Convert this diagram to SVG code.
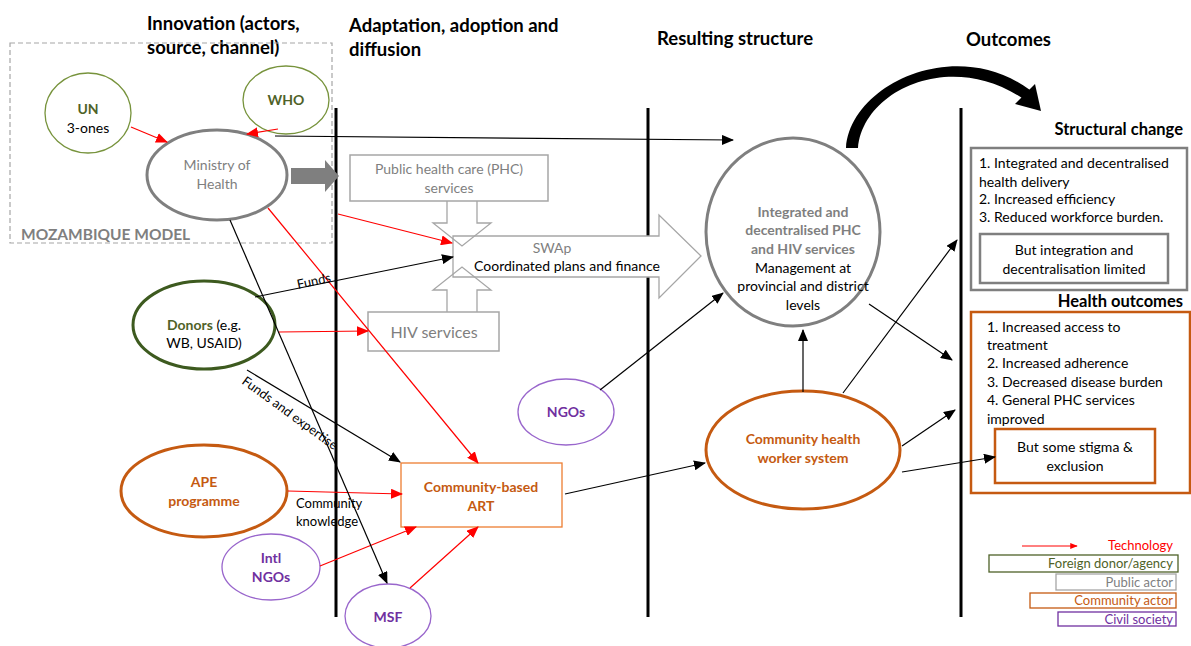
<svg xmlns="http://www.w3.org/2000/svg" width="1191" height="646" viewBox="0 0 1191 646">
<defs>
<marker id="ab" viewBox="0 0 12 10" refX="11" refY="5" markerWidth="12" markerHeight="10" markerUnits="userSpaceOnUse" orient="auto"><path d="M0,0 L12,5 L0,10 Z" fill="#000"/></marker>
<marker id="ar" viewBox="0 0 12 10" refX="11" refY="5" markerWidth="12" markerHeight="10" markerUnits="userSpaceOnUse" orient="auto"><path d="M0,0 L12,5 L0,10 Z" fill="#ff0000"/></marker>
<marker id="ars" viewBox="0 0 10 8" refX="9" refY="4" markerWidth="8" markerHeight="6" markerUnits="userSpaceOnUse" orient="auto"><path d="M0,0 L10,4 L0,8 Z" fill="#ff0000"/></marker>
</defs>
<style>
text{font-family:Lato,"Liberation Sans",sans-serif;font-size:14px;fill:#000}
.h{font-size:18.5px;font-weight:bold}
.b{font-weight:bold}
.g{fill:#7f7f7f}
.dg{fill:#4f6228}
.or{fill:#c55a11}
.pu{fill:#7030a0}
.c{text-anchor:middle}
.r{text-anchor:end}
.blk{stroke:#000;stroke-width:1.2;fill:none}
.red{stroke:#ff0000;stroke-width:1.2;fill:none}
.vl{stroke:#000;stroke-width:3}
.lg{font-size:13px}
</style>
<rect width="1191" height="646" fill="#fff"/>

<g id="headings">
<text class="h" x="147" y="30">Innovation (actors,</text>
<text class="h" x="147" y="54">source, channel)</text>
<text class="h" x="349" y="32">Adaptation, adoption  and</text>
<text class="h" x="349" y="56">diffusion</text>
<text class="h" x="657" y="45">Resulting structure</text>
<text class="h" x="966" y="46">Outcomes</text>
</g>

<g id="mozambique-model">
<rect x="10" y="43" width="322" height="200" fill="none" stroke="#a6a6a6" stroke-width="1.2" stroke-dasharray="5,3"/>
<text x="21" y="240" class="b g" style="font-size:15.5px">MOZAMBIQUE MODEL</text>
</g>

<g id="dividers">
<line class="vl" x1="336" y1="108" x2="336" y2="617"/>
<line class="vl" x1="648" y1="108" x2="648" y2="617"/>
<line class="vl" x1="961" y1="108" x2="961" y2="617"/>
</g>

<g id="swap">
<path d="M453,236 H659 V215 L701,256 L659,298 V277 H453 Z" fill="#fff" stroke="#a6a6a6" stroke-width="1.3"/>
<text class="c g" x="552" y="253">SWAp</text>
<text class="c" x="567" y="271">Coordinated plans and finance</text>
</g>

<g id="phc">
<rect x="350" y="155" width="198" height="46" fill="#fff" stroke="#a6a6a6" stroke-width="1.5"/>
<text class="c g" x="449" y="174">Public health care (PHC)</text>
<text class="c g" x="449" y="193">services</text>
<path d="M447,201 V223 H433 L462,246 L491,223 H477 V201" fill="none" stroke="#a6a6a6" stroke-width="1.3"/>
</g>

<g id="hiv">
<path d="M447,312 V290 H433 L462,267 L491,290 H477 V312" fill="none" stroke="#a6a6a6" stroke-width="1.3"/>
<rect x="368" y="312" width="131" height="39" fill="#fff" stroke="#a6a6a6" stroke-width="1.5"/>
<text class="c g" x="434" y="338" style="font-size:16px">HIV services</text>
</g>

<g id="un">
<ellipse cx="88" cy="113" rx="43" ry="40" fill="#fff" stroke="#77933c" stroke-width="1.3"/>
<text class="c b dg" x="88" y="114">UN</text>
<text class="c" x="88" y="133">3-ones</text>
</g>

<g id="who">
<ellipse cx="286" cy="100" rx="43" ry="34" fill="#fff" stroke="#77933c" stroke-width="1.3"/>
<text class="c b dg" x="286" y="105">WHO</text>
</g>

<g id="ministry">
<ellipse cx="217" cy="175" rx="70" ry="45" fill="#fff" stroke="#7f7f7f" stroke-width="3"/>
<text class="c g" x="217" y="170">Ministry of</text>
<text class="c g" x="217" y="189">Health</text>
<path d="M291,168 H325 V160 L339,176 L325,192 V184 H291 Z" fill="#7f7f7f"/>
</g>

<g id="donors">
<ellipse cx="204" cy="325" rx="71" ry="44" fill="#fff" stroke="#3d5a1f" stroke-width="3"/>
<text class="c" x="204" y="330"><tspan class="b dg">Donors</tspan> (e.g.</text>
<text class="c" x="204" y="348">WB, USAID)</text>
</g>

<g id="ape">
<ellipse cx="204" cy="491" rx="83" ry="46" fill="#fff" stroke="#c55a11" stroke-width="3"/>
<text class="c b or" x="204" y="487">APE</text>
<text class="c b or" x="204" y="506">programme</text>
</g>

<g id="intl-ngos">
<ellipse cx="271" cy="567" rx="49" ry="33" fill="#fff" stroke="#9966cc" stroke-width="1.3"/>
<text class="c b pu" x="271" y="563">Intl</text>
<text class="c b pu" x="271" y="582">NGOs</text>
</g>

<g id="msf">
<ellipse cx="388" cy="616" rx="43" ry="32" fill="#fff" stroke="#9966cc" stroke-width="1.3"/>
<text class="c b pu" x="388" y="622">MSF</text>
</g>

<g id="ngos">
<ellipse cx="566" cy="412" rx="48" ry="33" fill="#fff" stroke="#9966cc" stroke-width="1.3"/>
<text class="c b pu" x="566" y="417">NGOs</text>
</g>

<g id="cb-art">
<rect x="401" y="463" width="161" height="64" fill="#fff" stroke="#ed7d31" stroke-width="1.3"/>
<text class="c b or" x="481" y="492">Community-based</text>
<text class="c b or" x="481" y="511">ART</text>
</g>

<g id="integrated">
<ellipse cx="793" cy="232" rx="87" ry="94" fill="#fff" stroke="#7f7f7f" stroke-width="3"/>
<text class="c b g" x="803" y="217">Integrated and</text>
<text class="c b g" x="803" y="235">decentralised PHC</text>
<text class="c b g" x="803" y="254">and HIV services</text>
<text class="c" x="803" y="273">Management at</text>
<text class="c" x="803" y="291">provincial and district</text>
<text class="c" x="803" y="310">levels</text>
</g>

<g id="chw">
<ellipse cx="803" cy="450" rx="97" ry="59" fill="#fff" stroke="#c55a11" stroke-width="3"/>
<text class="c b or" x="803" y="444">Community health</text>
<text class="c b or" x="803" y="463">worker system</text>
</g>

<g id="structural-change">
<text class="r b" x="1183" y="135" style="font-size:16.5px">Structural change</text>
<rect x="971" y="148" width="216" height="142" fill="#fff" stroke="#7f7f7f" stroke-width="2.5"/>
<text x="979" y="168">1. Integrated and decentralised</text>
<text x="979" y="187">health delivery</text>
<text x="979" y="204">2. Increased efficiency</text>
<text x="979" y="222">3. Reduced workforce burden.</text>
<rect x="980" y="234" width="188" height="49" fill="#fff" stroke="#7f7f7f" stroke-width="2.5"/>
<text class="c" x="1074" y="255">But integration and</text>
<text class="c" x="1074" y="274">decentralisation limited</text>
</g>

<g id="health-outcomes">
<text class="r b" x="1183" y="307" style="font-size:16.5px">Health outcomes</text>
<rect x="971" y="312" width="219" height="181" fill="#fff" stroke="#c55a11" stroke-width="2.5"/>
<text x="987" y="332">1. Increased access to</text>
<text x="987" y="350">treatment</text>
<text x="987" y="368">2. Increased adherence</text>
<text x="987" y="387">3. Decreased disease burden</text>
<text x="987" y="405">4. General PHC services</text>
<text x="987" y="424">improved</text>
<rect x="995" y="429" width="160" height="54" fill="#fff" stroke="#c55a11" stroke-width="2.5"/>
<text class="c" x="1075" y="452">But some stigma &amp;</text>
<text class="c" x="1075" y="471">exclusion</text>
</g>

<g id="connectors">
<line class="red" x1="131" y1="127" x2="167" y2="142" marker-end="url(#ar)"/>
<line class="red" x1="278" y1="129" x2="247" y2="134" marker-end="url(#ar)"/>
<line class="red" x1="338" y1="214" x2="452" y2="243" marker-end="url(#ar)"/>
<line class="red" x1="268" y1="208" x2="478" y2="463" marker-end="url(#ar)"/>
<line class="red" x1="279" y1="332" x2="368" y2="331" marker-end="url(#ar)"/>
<line class="red" x1="288" y1="491" x2="402" y2="494" marker-end="url(#ar)"/>
<line class="red" x1="320" y1="566" x2="416" y2="527" marker-end="url(#ar)"/>
<line class="red" x1="410" y1="588" x2="478" y2="527" marker-end="url(#ar)"/>
<line class="blk" x1="275" y1="136" x2="733" y2="140" marker-end="url(#ab)"/>
<line class="blk" x1="230" y1="220" x2="387" y2="583" marker-end="url(#ab)"/>
<line class="blk" x1="255" y1="297" x2="453" y2="257" marker-end="url(#ab)"/>
<text x="0" y="0" transform="translate(298,289) rotate(-12)" style="font-size:13px">Funds</text>
<line class="blk" x1="247" y1="370" x2="400" y2="462" marker-end="url(#ab)"/>
<text x="0" y="0" transform="translate(241,383) rotate(36)" style="font-size:13px">Funds and expertise</text>
<text x="296" y="508" style="font-size:13px">Community</text>
<text x="296" y="526" style="font-size:13px">knowledge</text>
<line class="blk" x1="565" y1="494" x2="705" y2="463" marker-end="url(#ab)"/>
<line class="blk" x1="600" y1="390" x2="723" y2="293" marker-end="url(#ab)"/>
<line class="blk" x1="803" y1="392" x2="803" y2="330" marker-end="url(#ab)"/>
<line class="blk" x1="869" y1="304" x2="952" y2="360" marker-end="url(#ab)"/>
<line class="blk" x1="843" y1="393" x2="957" y2="240" marker-end="url(#ab)"/>
<line class="blk" x1="902" y1="446" x2="955" y2="410" marker-end="url(#ab)"/>
<line class="blk" x1="902" y1="472" x2="995" y2="457" marker-end="url(#ab)"/>
<path d="M846,148 C850,85 955,35 1030,90 L1022,98 C950,50 863,90 858,148 Z" fill="#000"/>
<path d="M1015,104 L1035,84 L1041,111 Z" fill="#000"/>
</g>

<g id="legend">
<line x1="1022" y1="546" x2="1077" y2="546" stroke="#ff0000" stroke-width="1" marker-end="url(#ars)"/>
<text class="r lg" x="1173" y="550" style="fill:#ff0000">Technology</text>
<rect x="989" y="555" width="189" height="17" fill="none" stroke="#4f6228" stroke-width="1.3"/>
<text class="r lg dg" x="1173" y="568">Foreign donor/agency</text>
<rect x="1056" y="574" width="120" height="16" fill="none" stroke="#a6a6a6" stroke-width="1.3"/>
<text class="r lg g" x="1173" y="587">Public actor</text>
<rect x="1030" y="593" width="146" height="15" fill="none" stroke="#c55a11" stroke-width="1.3"/>
<text class="r lg or" x="1173" y="605">Community actor</text>
<rect x="1058" y="612" width="118" height="14" fill="none" stroke="#7030a0" stroke-width="1.3"/>
<text class="r lg pu" x="1173" y="624">Civil society</text>
</g>
</svg>
